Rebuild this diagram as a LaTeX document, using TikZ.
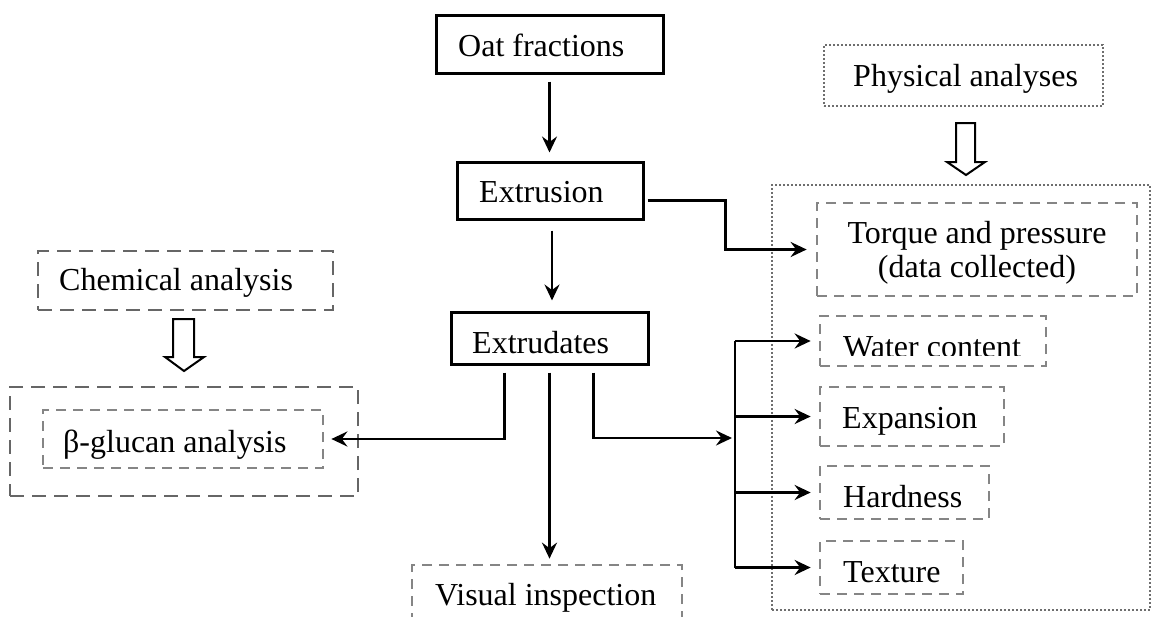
\documentclass[tikz,border=0pt]{standalone}
\usepackage{fontspec}
\setmainfont{Liberation Serif}
\usetikzlibrary{arrows.meta,fit,calc}
\definecolor{dgray}{HTML}{666666}
\definecolor{lgray}{HTML}{858585}
\definecolor{ogray}{HTML}{6E6E6E}
\tikzset{
  txt/.style={inner sep=0pt, anchor=base west, font=\fontsize{32}{34}\selectfont},
  solidbox/.style={draw=black, line width=3pt, inner sep=0pt},
  dashbox/.style={draw=lgray, line width=2.7pt, inner sep=0pt, dash pattern=on 10pt off 7pt},
  darkdash/.style={draw=dgray, line width=2.7pt, inner sep=0pt, dash pattern=on 14pt off 8pt},
  dotbox/.style={draw=ogray, line width=2.3pt, inner sep=0pt, dash pattern=on 1.8pt off 2.2pt},
  arr/.style={line width=2.6pt, -{Stealth[length=16pt,width=15pt,inset=5.5pt]}},
  plainline/.style={line width=2.6pt},
  hollow/.style={draw=black, line width=2pt, fill=white, line join=miter},
}
\begin{document}
\begin{tikzpicture}[x=1pt,y=-1pt]
\useasboundingbox (0,0) rectangle (1154,616);

% main column
\node[solidbox, fit={(436,15) (663,73)}] (oat) {};
\node[txt] at (458,56) {Oat fractions};
\node[solidbox, fit={(457,162) (643,219)}] (extr) {};
\node[txt] at (479,202) {Extrusion};
\node[solidbox, fit={(451,312) (648,364)}] (extd) {};
\node[txt] at (472,353) {Extrudates};
\node[dashbox, fit={(412,565) (682,640)}] (vis) {};
\node[txt] at (435,605) {Visual inspection};

% physical analyses
\node[dotbox, fit={(824,45) (1103,106)}] (phys) {};
\node[txt] at (853,86) {Physical analyses};
\node[dotbox, fit={(772,185) (1150,610)}] (physgrp) {};
\node[dashbox, fit={(817,203) (1137,296)}] (torq) {};
\node[txt, anchor=base] at (977,243) {Torque and pressure};
\node[txt, anchor=base] at (977,277) {(data collected)};
\node[dashbox, fit={(820,316) (1046,366)}] (wat) {};
\begin{scope}
  \clip (820,300) rectangle (1046,355.5);
  \node[txt] at (843,357) {Water content};
\end{scope}
\node[dashbox, fit={(820,387) (1004,446)}] (expn) {};
\node[txt] at (842,428) {Expansion};
\node[dashbox, fit={(820,466) (989,519)}] (hard) {};
\node[txt] at (843,507) {Hardness};
\node[dashbox, fit={(820,541) (963,594)}] (tex) {};
\node[txt] at (843,582) {Texture};

% chemical analysis
\node[darkdash, fit={(38,251) (333,310)}] (chem) {};
\node[txt] at (59,290) {Chemical analysis};
\node[darkdash, fit={(10,387) (358,496)}] (betaout) {};
\node[dashbox, fit={(43,410) (323,468)}] (beta) {};
\node[txt] at (63,452) {β-glucan analysis};

% hollow arrows
\draw[hollow] (956,123) -- (975,123) -- (975,162) -- (985,162) -- (966,175) -- (947,162) -- (956,162) -- cycle;
\draw[hollow] (173,319) -- (194,319) -- (194,357) -- (204,357) -- (184,371) -- (165,357) -- (173,357) -- cycle;

% connectors
\draw[arr, shorten <=7pt, shorten >=8pt] (oat.south) -- (oat.south |- extr.north);
\draw[arr, shorten <=10pt, shorten >=10pt] ([xshift=2pt]extr.south) -- ([xshift=2pt]extr.south |- extd.north);
\coordinate (tk) at ($(torq.west)+(-90,0)$);
\draw[arr, shorten >=9pt] ([xshift=3pt,yshift=-10pt]extr.east) -| (tk) -- (torq.west);
\draw[arr, shorten <=7pt, shorten >=7pt] ([xshift=-45pt]extd.south) |- (beta.east);
\draw[arr, shorten <=7pt, shorten >=5pt] (extd.south) -- (extd.south |- vis.north);
\coordinate (br) at (735,438);
\draw[arr, shorten <=7pt, shorten >=3pt] ([xshift=44pt]extd.south) |- (br);
\draw[plainline] (br |- wat.west) -- (br |- tex.west);
\draw[arr, shorten >=8pt] (br |- wat.west) -- (wat.west);
\draw[arr, shorten >=8pt] (br |- expn.west) -- (expn.west);
\draw[arr, shorten >=8pt] (br |- hard.west) -- (hard.west);
\draw[arr, shorten >=8pt] (br |- tex.west) -- (tex.west);
\end{tikzpicture}
\end{document}
